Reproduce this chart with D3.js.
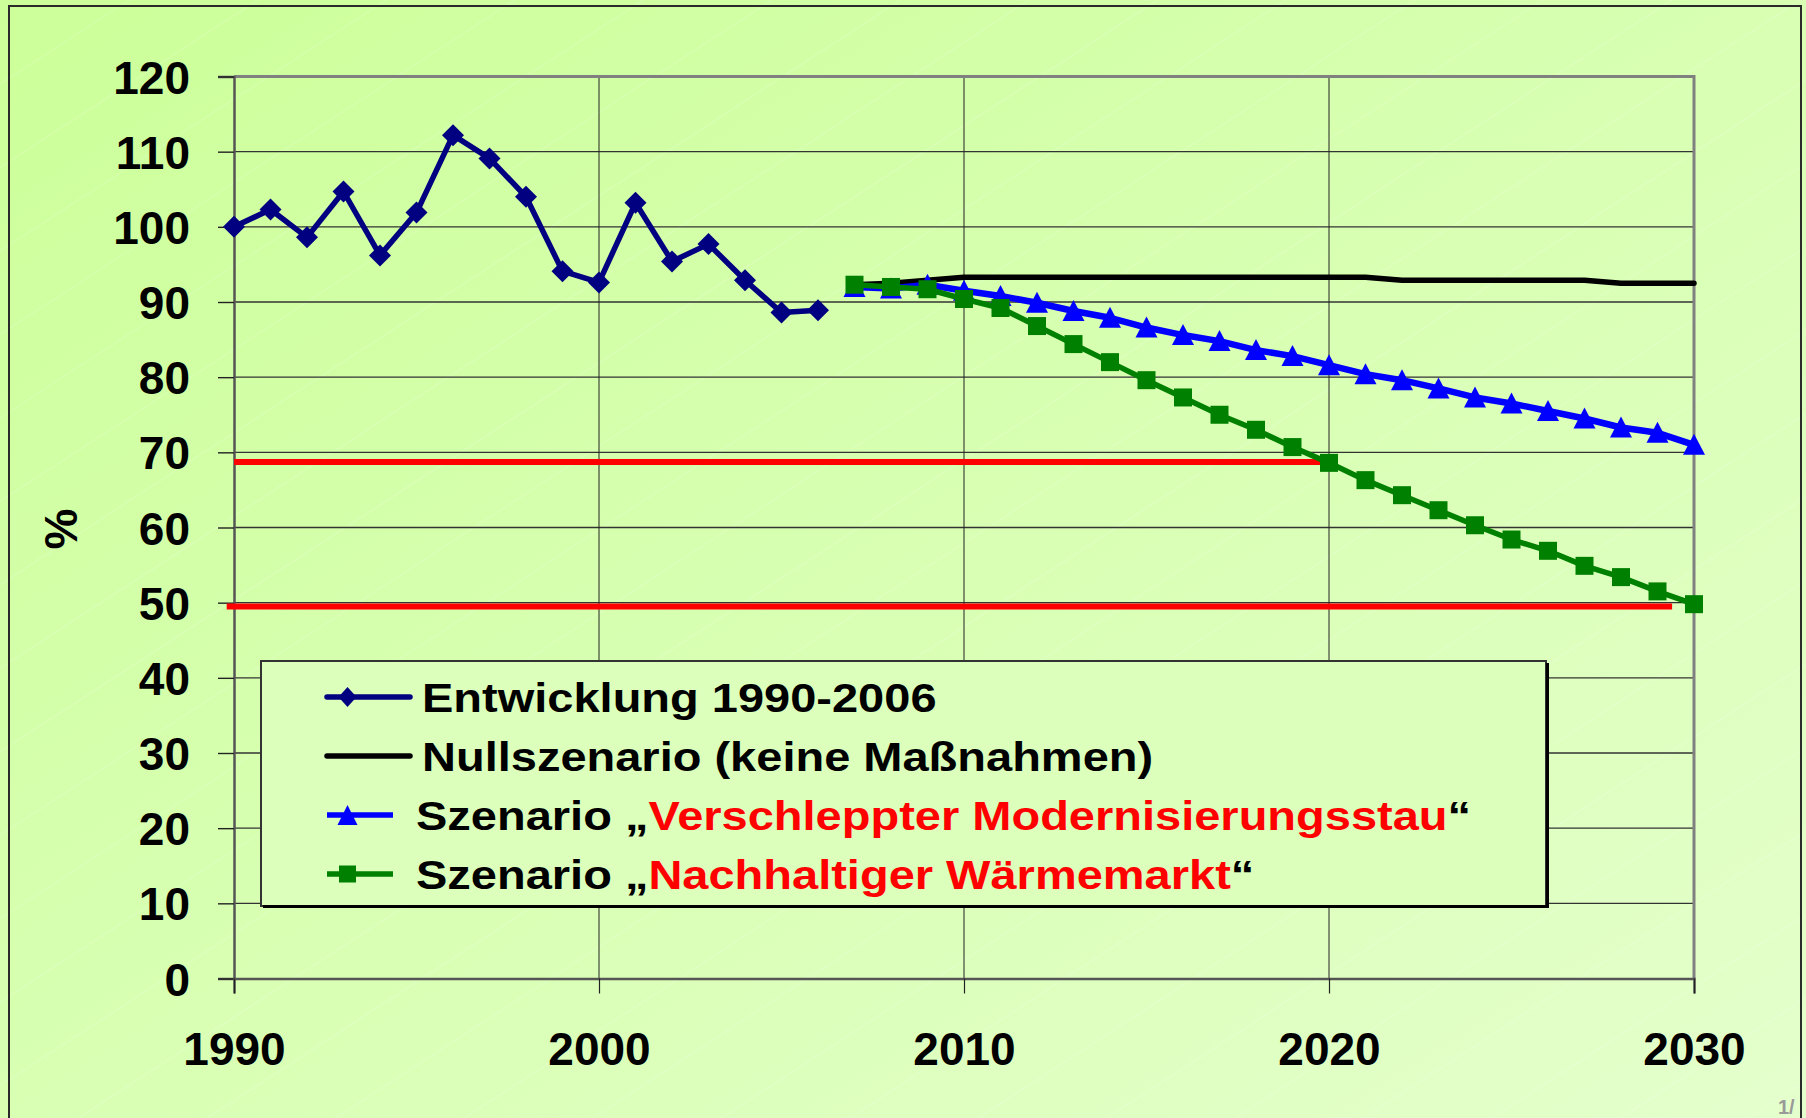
<!DOCTYPE html>
<html>
<head>
<meta charset="utf-8">
<script src="https://cdn.jsdelivr.net/npm/d3@7"></script>
<style>
  body { margin: 0; background: #d8ffb0; }
  svg { display: block; }
</style>
</head>
<body>
<script>
// data
const histYears = [1990, 1991, 1992, 1993, 1994, 1995, 1996, 1997, 1998, 1999, 2000, 2001, 2002, 2003, 2004, 2005, 2006]
const entwicklung = [100, 102.3, 98.6, 104.7, 96.2, 101.9, 112.2, 109.1, 104.0, 94.1, 92.6, 103.2, 95.4, 97.7, 92.9, 88.6, 88.9]

const scenYears = [2007, 2008, 2009, 2010, 2011, 2012, 2013, 2014, 2015, 2016, 2017, 2018,
                   2019, 2020, 2021, 2022, 2023, 2024, 2025, 2026, 2027, 2028, 2029, 2030]
const nullszenario = [92.3, 92.5, 92.9, 93.3, 93.3, 93.3, 93.3, 93.3, 93.3, 93.3, 93.3, 93.3,
                      93.3, 93.3, 93.3, 92.9, 92.9, 92.9, 92.9, 92.9, 92.9, 92.5, 92.5, 92.5]
const verschleppt = [92.0, 91.8, 92.3, 91.5, 90.8, 89.9, 88.8, 87.9, 86.6, 85.6, 84.8, 83.6,
                     82.8, 81.6, 80.4, 79.6, 78.5, 77.3, 76.5, 75.5, 74.5, 73.3, 72.6, 71.0]
const nachhaltig = [92.3, 92.0, 91.7, 90.4, 89.2, 86.8, 84.4, 82.0, 79.6, 77.3, 75.0, 73.0,
                    70.7, 68.6, 66.3, 64.3, 62.3, 60.3, 58.4, 56.9, 54.9, 53.4, 51.5, 49.8]

// red target lines: [start year, end year, value]
const targets = [[1990, 2020, 68.7], [1989.8, 2029.4, 49.5]]

const yTicks = [0, 10, 20, 30, 40, 50, 60, 70, 80, 90, 100, 110, 120]
const xTicks = [1990, 2000, 2010, 2020, 2030]

const width = 1806, height = 1118
const plotLeft = 234, plotRight = 1694, plotTop = 76.5, plotBottom = 978.5
const font = '"Liberation Sans", Arial, sans-serif'

const svg = d3.select('body')
    .append('svg')
    .attr('width', width)
    .attr('height', height)

const defs = svg.append('defs')
const grad = defs.append('linearGradient')
    .attr('id', 'bg')
    .attr('x1', 0).attr('y1', 0).attr('x2', 1).attr('y2', 1)
grad.append('stop').attr('offset', 0).attr('stop-color', '#ccff99')
grad.append('stop').attr('offset', 1).attr('stop-color', '#e4ffcc')

const pat = defs.append('pattern')
    .attr('id', 'stripes')
    .attr('patternUnits', 'userSpaceOnUse')
    .attr('width', 70).attr('height', 70)
    .attr('patternTransform', 'rotate(-33)')
pat.append('line')
    .attr('x1', 0).attr('y1', 0).attr('x2', 70).attr('y2', 0)
    .attr('stroke', '#ffffff').attr('stroke-width', 1.2).attr('opacity', 0.35)

svg.append('rect').attr('width', width).attr('height', height).attr('fill', 'url(#bg)')
svg.append('rect').attr('width', width).attr('height', height).attr('fill', 'url(#stripes)')

// outer frame
svg.append('rect')
    .attr('x', 9).attr('y', 6)
    .attr('width', 1792).attr('height', 1200)
    .attr('fill', 'none').attr('stroke', '#2a2a2a').attr('stroke-width', 2)

const x = d3.scaleLinear().domain([1990, 2030]).range([plotLeft, plotRight])
const y = d3.scaleLinear().domain([0, 120]).range([plotBottom, plotTop])

// grid
svg.append('g')
    .selectAll('line')
    .data(yTicks.filter(d => d > 0 && d < 120))
    .join('line')
    .attr('x1', plotLeft).attr('x2', plotRight)
    .attr('y1', d => y(d)).attr('y2', d => y(d))
    .attr('stroke', '#333').attr('stroke-width', 1.4)

svg.append('g')
    .selectAll('line')
    .data(xTicks.filter(d => d > 1990 && d < 2030))
    .join('line')
    .attr('x1', d => x(d)).attr('x2', d => x(d))
    .attr('y1', plotTop).attr('y2', plotBottom)
    .attr('stroke', '#222').attr('stroke-width', 1)

// plot border top / right
svg.append('path')
    .attr('d', `M${plotLeft},${plotTop}H${plotRight}V${plotBottom}`)
    .attr('fill', 'none').attr('stroke', '#808080').attr('stroke-width', 3)

// axes
const yAxis = d3.axisLeft(y).tickValues(yTicks).tickSize(16).tickPadding(28)
const gy = svg.append('g').attr('transform', `translate(${plotLeft},0)`).call(yAxis)
gy.select('.domain').attr('stroke', '#555').attr('stroke-width', 2.5)
gy.selectAll('.tick line').attr('stroke', '#222').attr('stroke-width', 1.4)
gy.selectAll('.tick text')
    .attr('dy', '0.36em')
    .style('font-family', font).style('font-size', '46px').style('font-weight', 'bold')
    .attr('fill', '#000')

const xAxis = d3.axisBottom(x).tickValues(xTicks).tickSize(15).tickPadding(39).tickFormat(d3.format('d'))
const gx = svg.append('g').attr('transform', `translate(0,${plotBottom})`).call(xAxis)
gx.select('.domain').attr('stroke', '#555').attr('stroke-width', 2.5)
gx.selectAll('.tick line').attr('stroke', '#222').attr('stroke-width', 1.2)
gx.selectAll('.tick text')
    .style('font-family', font).style('font-size', '46px').style('font-weight', 'bold')
    .attr('fill', '#000')

svg.append('text')
    .attr('transform', 'translate(60,529) rotate(-90)')
    .attr('text-anchor', 'middle')
    .attr('dy', '0.36em')
    .style('font-family', font).style('font-size', '46px').style('font-weight', 'bold')
    .text('%')

// red target lines
svg.append('g')
    .selectAll('line')
    .data(targets)
    .join('line')
    .attr('x1', d => x(d[0])).attr('x2', d => x(d[1]))
    .attr('y1', d => y(d[2])).attr('y2', d => y(d[2]))
    .attr('stroke', '#ff0000').attr('stroke-width', 6)

// marker shapes
const diamond = 'M0,-11L11,0L0,11L-11,0Z'
const square = 'M-9,-9H9V9H-9Z'
const triangle = 'M0,-11L11,10L-11,10Z'

const series = [
    {years: scenYears, values: nullszenario, color: '#000000', width: 5.5, marker: null},
    {years: scenYears, values: verschleppt, color: '#0000ff', width: 6.5, marker: triangle},
    {years: scenYears, values: nachhaltig, color: '#008000', width: 5.5, marker: square},
    {years: histYears, values: entwicklung, color: '#000080', width: 5.5, marker: diamond}
]

const line = d3.line().x(d => x(d[0])).y(d => y(d[1]))

series.forEach(s => {
    const pts = s.years.map((yr, i) => [yr, s.values[i]])
    svg.append('path')
        .datum(pts)
        .attr('d', line)
        .attr('fill', 'none')
        .attr('stroke', s.color)
        .attr('stroke-width', s.width)
        .attr('stroke-linejoin', 'round')
        .attr('stroke-linecap', 'round')
    if (s.marker) {
        svg.append('g')
            .selectAll('path')
            .data(pts)
            .join('path')
            .attr('d', s.marker)
            .attr('transform', d => `translate(${x(d[0])},${y(d[1])})`)
            .attr('fill', s.color)
    }
})

// legend
const legend = svg.append('g')
legend.append('rect')
    .attr('x', 261).attr('y', 661)
    .attr('width', 1285).attr('height', 245)
    .attr('fill', '#dcffbc')
    .attr('stroke', '#333').attr('stroke-width', 2)
legend.append('path')
    .attr('d', 'M263,906.5H1547.5V663')
    .attr('fill', 'none').attr('stroke', '#000').attr('stroke-width', 3)

const legendRows = [
    {y: 697, x0: 327, x1: 410, tx: 422, color: '#000080', marker: 'M0,-10L9,0L0,10L-9,0Z',
     parts: [['Entwicklung 1990-2006', '#000']]},
    {y: 756, x0: 327, x1: 410, tx: 422, color: '#000000', marker: null,
     parts: [['Nullszenario (keine Maßnahmen)', '#000']]},
    {y: 815, x0: 327, x1: 393, tx: 416, color: '#0000ff', marker: 'M0,-10L10,10L-10,10Z',
     parts: [['Szenario \u201E', '#000'], ['Verschleppter Modernisierungsstau', '#ff0000'], ['\u201C', '#000']]},
    {y: 874, x0: 327, x1: 393, tx: 416, color: '#008000', marker: 'M-8.5,-8.5H8.5V8.5H-8.5Z',
     parts: [['Szenario \u201E', '#000'], ['Nachhaltiger Wärmemarkt', '#ff0000'], ['\u201C', '#000']]}
]

legendRows.forEach(r => {
    legend.append('line')
        .attr('x1', r.x0).attr('x2', r.x1)
        .attr('y1', r.y).attr('y2', r.y)
        .attr('stroke', r.color).attr('stroke-width', 5.5)
        .attr('stroke-linecap', r.x1 > 400 ? 'round' : 'butt')
    if (r.marker) {
        legend.append('path')
            .attr('d', r.marker)
            .attr('transform', `translate(${(r.x0 + 368) / 2},${r.y})`)
            .attr('fill', r.color)
    }
    const t = legend.append('text')
        .attr('transform', `translate(${r.tx},${r.y + 15}) scale(1.175,1.03)`)
        .style('font-family', font).style('font-size', '40px').style('font-weight', 'bold')
    r.parts.forEach(p => {
        t.append('tspan').attr('fill', p[1]).text(p[0])
    })
})

// page number in the corner
svg.append('text')
    .attr('x', 1778).attr('y', 1114)
    .attr('fill', '#999')
    .style('font-family', font).style('font-size', '20px').style('font-weight', 'bold')
    .text('1/')
</script>
</body>
</html>
